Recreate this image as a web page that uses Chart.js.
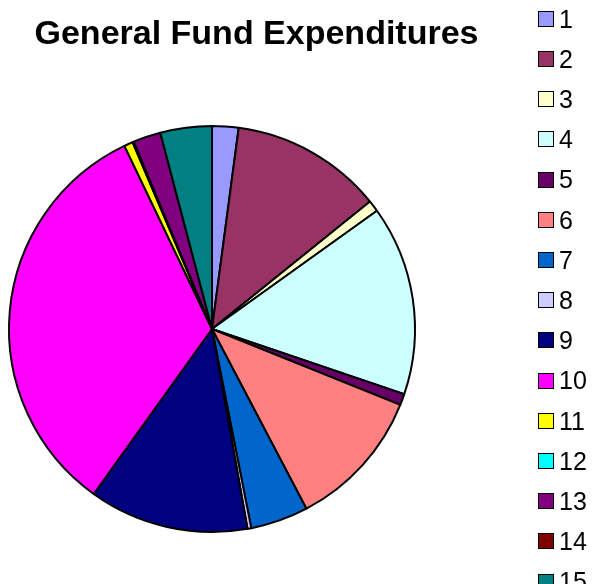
<!DOCTYPE html>
<html>
<head>
<meta charset="utf-8">
<script src="https://cdn.jsdelivr.net/npm/chart.js@4"></script>
<style>
  html, body { margin: 0; padding: 0; background: #fff; overflow: hidden; }
  #wrap { position: relative; width: 597px; height: 584px; }
  #chartBox { position: absolute; left: 0; top: 0; width: 513px; height: 584px; }
  #legend { position: absolute; left: 0; top: 0; width: 597px; height: 584px; pointer-events: none;
            font-family: "Liberation Sans", Arial, sans-serif; font-size: 25px; color: #000; }
  .item { position: absolute; left: 538px; height: 28px; line-height: 28px; white-space: nowrap; }
  .swatch { display: inline-block; width: 14px; height: 14px; border: 1.5px solid #000;
            vertical-align: middle; margin-right: 5px; position: relative; top: -2px; }
</style>
</head>
<body>
<div id="wrap">
  <div id="chartBox"><canvas id="pieChart"></canvas></div>
  <div id="legend"></div>
</div>
<script>
// --- Data ---
const categories = ['1', '2', '3', '4', '5', '6', '7', '8', '9', '10', '11', '12', '13', '14', '15'];
const shares = [2.1, 12.1, 0.9, 15.1, 0.9, 11.2, 4.6, 0.3, 12.7, 33.0, 0.7, 0.1, 2.2, 0, 4.1];
const sliceColors = [
    '#9999FF', '#993366', '#FFFFCC', '#CCFFFF', '#660066',
    '#FF8080', '#0066CC', '#CCCCFF', '#000080', '#FF00FF',
    '#FFFF00', '#00FFFF', '#800080', '#800000', '#008080'
];
const chartTitle = 'General Fund Expenditures';

// --- Legend (html, so it can run off the bottom like the original) ---
const legendEl = document.getElementById('legend');
categories.forEach(function (label, i) {
    const item = document.createElement('div');
    item.className = 'item';
    item.style.top = (18.5 + 40.2 * i - 14) + 'px';
    const sw = document.createElement('span');
    sw.className = 'swatch';
    sw.style.background = sliceColors[i];
    item.appendChild(sw);
    item.appendChild(document.createTextNode(label));
    legendEl.appendChild(item);
});

// title sits off-centre from the pie, so draw it on the canvas ourselves
const titlePlugin = {
    id: 'offsetTitle',
    afterDraw(chart) {
        const c = chart.ctx;
        c.save();
        c.fillStyle = '#000';
        c.font = 'bold 34px "Liberation Sans", Arial, sans-serif';
        c.textAlign = 'center';
        c.textBaseline = 'alphabetic';
        c.fillText(chartTitle, chart.width / 2, 44);
        c.restore();
    }
};

// --- Chart ---
const ctx = document.getElementById('pieChart').getContext('2d');
new Chart(ctx, {
    type: 'pie',
    data: {
        labels: categories,
        datasets: [{
            data: shares,
            backgroundColor: sliceColors,
            borderColor: '#000',
            borderWidth: 2
        }]
    },
    options: {
        responsive: true,
        maintainAspectRatio: false,
        animation: false,
        layout: { padding: { left: 8, right: 97, top: 125, bottom: 51 } },
        plugins: {
            legend: { display: false },
            tooltip: { enabled: false },
            title: { display: false }
        }
    },
    plugins: [titlePlugin]
});
</script>
</body>
</html>
